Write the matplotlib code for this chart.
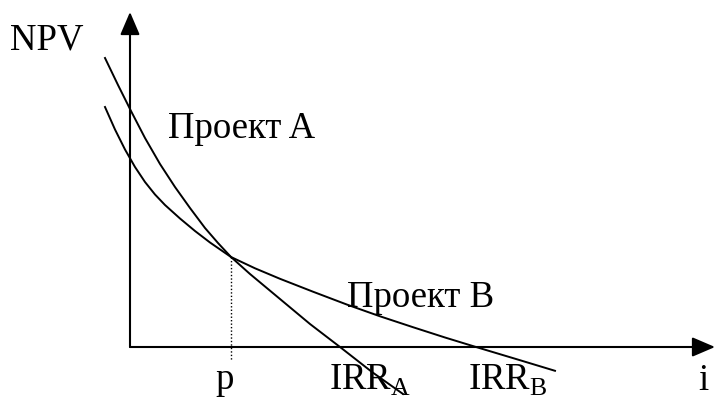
import matplotlib.pyplot as plt

plt.rcParams['font.family'] = ['Liberation Serif', 'DejaVu Serif']
plt.rcParams['mathtext.fontset'] = 'custom'
plt.rcParams['mathtext.rm'] = 'Liberation Serif'

# i (rate) vs NPV, arbitrary units
i_a = [-2.5, -1.2, 0.1, 1.5, 3.0, 4.5, 6.0, 7.5, 8.8, 10.1, 12.0, 15.0, 18.0,
       21.0, 24.2, 27.3]
npv_a = [28.9, 26.2, 23.6, 20.9, 18.3, 16.0, 13.9, 11.9, 10.4, 9.0, 7.3, 4.8,
         2.3, 0.0, -2.5, -4.7]

i_b = [-2.5, -1.5, -0.5, 0.5, 1.5, 2.5, 3.5, 5.0, 6.5, 8.0, 10.1, 12.5, 15.0,
       18.3, 21.7, 25.0, 28.3, 31.5, 34.6, 38.5, 42.5]
npv_b = [24.0, 21.75, 19.75, 18.0, 16.5, 15.25, 14.2, 12.85, 11.6, 10.45, 9.0,
         7.87, 6.82, 5.53, 4.24, 3.07, 1.98, 0.95, 0.0, -1.17, -2.38]

p_rate = 10.1
p_npv = 9.0

fig = plt.figure(figsize=(7.15, 3.98), dpi=100)
ax = fig.add_axes([0, 0, 1, 1])
ax.set_xlim(-13, 58.5)
ax.set_ylim(-5.1, 34.7)
ax.axis('off')

# axes with arrow heads
arrow = dict(arrowstyle='-|>,head_length=0.7,head_width=0.3', color='black',
             lw=1.5, shrinkA=0, shrinkB=0, mutation_scale=20)
ax.annotate('', xy=(0, 33.5), xytext=(0, 0), arrowprops=arrow)
ax.annotate('', xy=(58.5, 0), xytext=(0, 0), arrowprops=arrow)

ax.plot(i_a, npv_a, color='black', lw=1.4)
ax.plot(i_b, npv_b, color='black', lw=1.4)
ax.plot([p_rate, p_rate], [p_npv, -1.3], color='black', lw=1.0, ls=(0, (1, 1.5)))

fs = 26.5
ax.text(-12, 29.8, 'NPV', fontsize=fs, ha='left', va='baseline')
ax.text(3.8, 20.9, 'Проект A', fontsize=fs, ha='left', va='baseline')
ax.text(21.7, 4.0, 'Проект B', fontsize=fs, ha='left', va='baseline')
ax.text(9.5, -4.2, 'p', fontsize=fs, ha='center', va='baseline')
ax.text(19.9, -4.3, r'IRR$_{\mathrm{A}}$', fontsize=fs, ha='left', va='baseline')
ax.text(33.8, -4.3, r'IRR$_{\mathrm{B}}$', fontsize=fs, ha='left', va='baseline')
ax.text(56.8, -4.3, 'i', fontsize=fs, ha='left', va='baseline')

fig.savefig('out.png', dpi=100)
